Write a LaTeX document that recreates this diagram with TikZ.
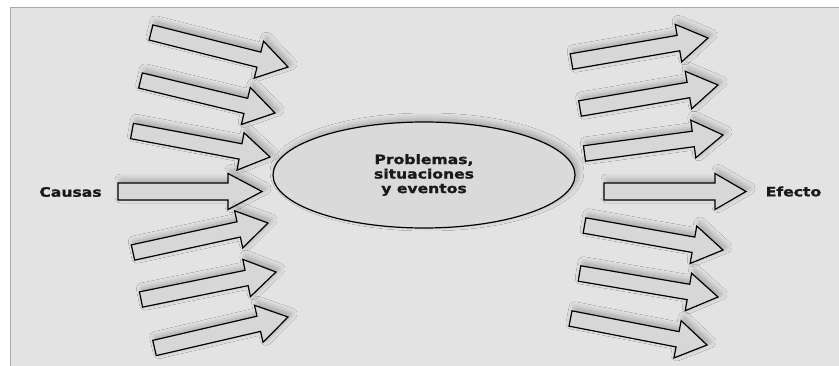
\documentclass[tikz,border=0pt]{standalone}
\usepackage{fontspec}
\newfontfamily\labelfont{DejaVu Sans}[FakeStretch=1.2, BoldFeatures={FakeBold=1.3}]
\usetikzlibrary{calc,shapes.geometric,shadows.blur}

\definecolor{pagegray}{HTML}{E3E3E3}
\definecolor{framegray}{HTML}{A9A9A9}
\definecolor{arrowgray}{HTML}{D7D7D7}
\definecolor{ellgray}{HTML}{DADADA}

\tikzset{
  softshadow/.style={blur shadow={shadow xshift=3pt, shadow yshift=3pt,
      shadow blur radius=6pt, shadow blur steps=12, shadow opacity=30}},
  arrowbody/.style={draw=black, line width=1.2pt, fill=arrowgray,
      line join=miter, softshadow},
  labeltext/.style={font=\labelfont\bfseries\fontsize{13}{14.5}\selectfont,
      text=black!90, align=center, inner sep=0pt},
}

% block arrow: name, tail centre, tip, half shaft width, half head width, head length
\newcommand\blockarrow[6]{%
  \coordinate (#1-t) at (#2);
  \coordinate (#1-p) at (#3);
  \coordinate (#1-b) at ($(#1-p)!#6!(#1-t)$);
  \draw[arrowbody]
    ($(#1-t)!#4!90:(#1-p)$) -- ($(#1-b)!#4!90:(#1-p)$) --
    ($(#1-b)!#5!90:(#1-p)$) -- (#1-p) --
    ($(#1-b)!#5!-90:(#1-p)$) -- ($(#1-b)!#4!-90:(#1-p)$) --
    ($(#1-t)!#4!-90:(#1-p)$) -- cycle;
}

\begin{document}
\begin{tikzpicture}[x=1pt, y=-1pt]
  \useasboundingbox (0,0) rectangle (839,366);
  \fill[white] (0,0) rectangle (839,366);
  \fill[pagegray] (10,7) rectangle (839,366);
  \draw[framegray, line width=1.6pt] (10.5,366) -- (10.5,7.5) -- (839,7.5);

  % causes on the left
  \blockarrow{a1}{151,32.5}{288,67}{7.8pt}{19pt}{30pt}
  \blockarrow{a2}{140.5,80.5}{275,113}{7.8pt}{19pt}{30pt}
  \blockarrow{a3}{132,131}{270,157}{7.8pt}{19pt}{30pt}
  \blockarrow{a4}{118,191.5}{262,191.5}{8.5pt}{18pt}{34pt}
  \blockarrow{a5}{133,252.5}{268,223}{7.8pt}{19pt}{30pt}
  \blockarrow{a6}{141,299.5}{276,272}{7.8pt}{19pt}{30pt}
  \blockarrow{a7}{154.5,348}{288,317}{7.8pt}{19pt}{30pt}

  % effects on the right
  \blockarrow{b1}{571.5,61.5}{708,38}{7.8pt}{19pt}{30pt}
  \blockarrow{b2}{580,108.5}{718,85}{7.8pt}{19pt}{30pt}
  \blockarrow{b3}{584.5,153.5}{723,135}{7.8pt}{19pt}{30pt}
  \blockarrow{b4}{604,191.5}{746,191.5}{8.5pt}{18pt}{31pt}
  \blockarrow{b5}{584.5,225.5}{723,250}{7.8pt}{19pt}{30pt}
  \blockarrow{b6}{579.5,273.5}{718,297}{7.8pt}{19pt}{30pt}
  \blockarrow{b7}{570.5,318.5}{707,345}{7.8pt}{19pt}{30pt}

  % central event
  \node[ellipse, draw=black, line width=1.2pt, fill=ellgray, softshadow,
        minimum width=302pt, minimum height=106pt, inner sep=0pt]
        (core) at (424,175) {};
  \node[labeltext] (coretext) at (core.center) {Problemas,\\situaciones\\y eventos};

  \node[labeltext] (causas) at (70.5,192) {Causas};
  \node[labeltext] (efecto) at (793.5,191.5) {Efecto};
\end{tikzpicture}
\end{document}
